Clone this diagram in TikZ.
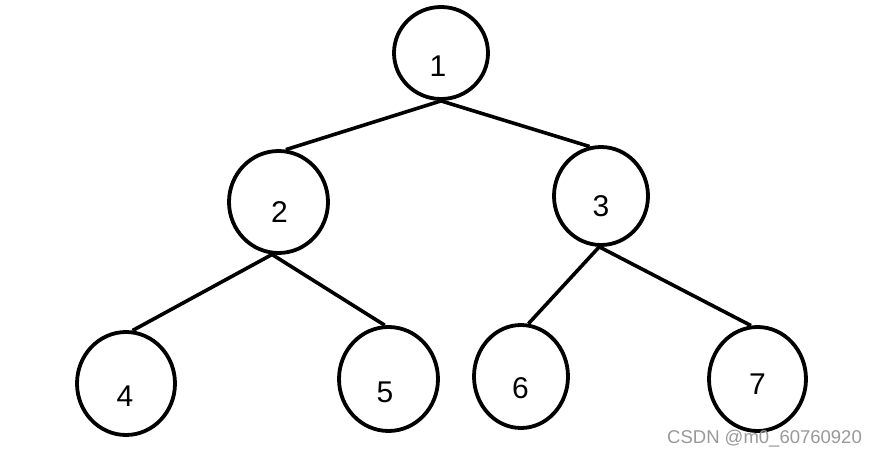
\documentclass[tikz,border=0pt]{standalone}
\usepackage{fontspec}
\setmainfont{Liberation Sans}
\usetikzlibrary{shapes.geometric}
\begin{document}
\begin{tikzpicture}[x=1pt,y=-1pt,
  treenode/.style={ellipse, draw=black, line width=3.8pt, inner sep=0pt},
  digit/.style={font=\fontsize{30}{30}\selectfont, inner sep=0pt},
  edge/.style={line width=3.6pt},
  mark text/.style={font=\fontsize{18.5}{18.5}\selectfont, text=black!40, anchor=west, inner sep=0pt}]
\useasboundingbox (0,0) rectangle (879,457);
\fill[white] (0,0) rectangle (879,457);
\node[treenode, minimum width=94pt, minimum height=92pt,
  label={[digit,xshift=-3pt,yshift=-13pt]center:1}] (n1) at (441,53) {};
\node[treenode, minimum width=99pt, minimum height=102pt,
  label={[digit,xshift=1pt,yshift=-10pt]center:2}] (n2) at (278.5,202) {};
\node[treenode, minimum width=94pt, minimum height=98pt,
  label={[digit,yshift=-10pt]center:3}] (n3) at (601,196) {};
\node[treenode, minimum width=98pt, minimum height=103pt,
  label={[digit,xshift=-1pt,yshift=-12.5pt]center:4}] (n4) at (126,383.5) {};
\node[treenode, minimum width=99pt, minimum height=104pt,
  label={[digit,xshift=-3.5pt,yshift=-13pt]center:5}] (n5) at (388.5,379) {};
\node[treenode, minimum width=94pt, minimum height=103pt,
  label={[digit,xshift=-0.5pt,yshift=-12pt]center:6}] (n6) at (521,376.5) {};
\node[treenode, minimum width=97pt, minimum height=104pt,
  label={[digit,yshift=-5pt]center:7}] (n7) at (757.5,379) {};
\draw[edge] (n1.south) -- (n2.82);
\draw[edge] (n1.south) -- (n3.103);
\draw[edge] (n2.263) -- (n4.83);
\draw[edge] (n2.263) -- (n5.94);
\draw[edge] (n3.268) -- (n6.82);
\draw[edge] (n3.268) -- (n7.97);
\node[mark text] (wm) at (667,439) {CSDN @m0\_60760920};
\end{tikzpicture}
\end{document}
